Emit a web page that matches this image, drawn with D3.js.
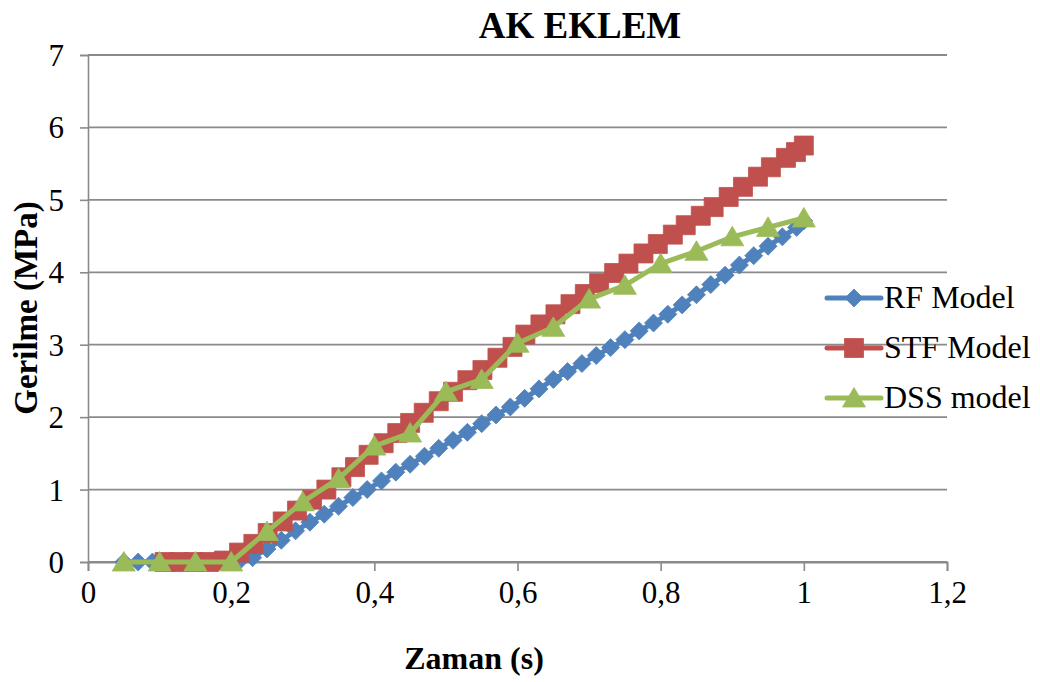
<!DOCTYPE html>
<html>
<head>
<meta charset="utf-8">
<script src="https://cdn.jsdelivr.net/npm/d3@7"></script>
<style>
  html, body { margin: 0; padding: 0; background: #ffffff; }
  svg { display: block; }
  text { font-family: "Liberation Serif", "Times New Roman", serif; fill: #000; }
</style>
</head>
<body>
<svg id="chart" width="1040" height="682"></svg>
<script>
// Time (s) and stress (MPa) for each model
const rfTime = [0.05,0.07,0.09,0.11,0.13,0.15,0.17,0.19,0.21,0.23,0.25,0.27,0.29,0.31,0.33,0.35,0.37,0.39,0.41,0.43,0.45,0.47,0.49,0.51,0.53,0.55,0.57,0.59,0.61,0.63,0.65,0.67,0.69,0.71,0.73,0.75,0.77,0.79,0.81,0.83,0.85,0.87,0.89,0.91,0.93,0.95,0.97,0.99,1.00];
const rfStress = [0,0,0,0,0,0,0,0,0,0.06,0.18,0.30,0.43,0.55,0.66,0.77,0.89,1.00,1.12,1.24,1.35,1.46,1.57,1.68,1.79,1.91,2.03,2.14,2.26,2.39,2.52,2.63,2.74,2.85,2.96,3.07,3.19,3.30,3.42,3.55,3.69,3.83,3.96,4.10,4.23,4.36,4.49,4.62,4.71];

const stfTime = [0.107,0.128,0.148,0.169,0.190,0.211,0.231,0.251,0.272,0.292,0.313,0.333,0.354,0.373,0.392,0.413,0.432,0.450,0.469,0.490,0.510,0.530,0.551,0.572,0.593,0.611,0.632,0.653,0.674,0.694,0.714,0.735,0.755,0.776,0.796,0.817,0.835,0.856,0.874,0.895,0.915,0.936,0.954,0.975,0.989,1.000];
const stfStress = [0,0,0,0,0.02,0.13,0.25,0.40,0.56,0.71,0.86,1.00,1.17,1.31,1.48,1.64,1.78,1.92,2.06,2.22,2.35,2.51,2.65,2.82,2.97,3.14,3.28,3.42,3.56,3.70,3.85,3.99,4.12,4.26,4.39,4.52,4.65,4.78,4.90,5.04,5.18,5.32,5.45,5.58,5.66,5.75];

const dssTime = [0.05,0.10,0.15,0.20,0.25,0.30,0.35,0.40,0.45,0.50,0.55,0.60,0.65,0.70,0.75,0.80,0.85,0.90,0.95,1.00];
const dssStress = [0,0,0,0,0.42,0.83,1.15,1.60,1.78,2.35,2.52,3.02,3.24,3.63,3.82,4.12,4.29,4.49,4.62,4.75];

const seriesNames = ["RF Model", "STF Model", "DSS model"];
const seriesColors = ["#4F81BD", "#C0504D", "#9BBB59"];
const xTicks = [0, 0.2, 0.4, 0.6, 0.8, 1, 1.2];
const yTicks = [0, 1, 2, 3, 4, 5, 6, 7];

const chartTitle = "AK EKLEM";
const xTitle = "Zaman (s)";
const yTitle = "Gerilme (MPa)";

const svg = d3.select("#chart");
const plot = { left: 88, right: 947, top: 55, bottom: 562 };

const x = d3.scaleLinear().domain([0, 1.2]).range([plot.left, plot.right]);
const y = d3.scaleLinear().domain([0, 7]).range([plot.bottom, plot.top]);

const fmt = v => String(+v.toFixed(1)).replace(".", ",");
const gridColor = "#8a8a8a";

// Horizontal gridlines
svg.append("g")
  .selectAll("line")
  .data(yTicks)
  .join("line")
  .attr("x1", plot.left).attr("x2", plot.right)
  .attr("y1", d => y(d)).attr("y2", d => y(d))
  .attr("stroke", gridColor).attr("stroke-width", 1.8);

// Y axis
const yAxis = svg.append("g")
  .attr("transform", `translate(${plot.left},0)`)
  .call(d3.axisLeft(y).tickValues(yTicks).tickSize(8).tickPadding(16).tickFormat(d => d));
yAxis.select(".domain").attr("stroke", gridColor).attr("stroke-width", 1.6);
yAxis.selectAll(".tick line").attr("stroke", gridColor).attr("stroke-width", 1.6);
yAxis.selectAll(".tick text")
  .attr("font-size", 31)
  .attr("dy", "0.34em").attr("fill", "#000");

// X axis
const xAxis = svg.append("g")
  .attr("transform", `translate(0,${plot.bottom})`)
  .call(d3.axisBottom(x).tickValues(xTicks).tickSize(9).tickPadding(10).tickFormat(fmt));
xAxis.select(".domain").attr("stroke", gridColor).attr("stroke-width", 1.8);
xAxis.selectAll(".tick line").attr("stroke", gridColor).attr("stroke-width", 1.6);
xAxis.selectAll(".tick text")
  .attr("font-size", 31)
  .attr("dy", "0.72em").attr("fill", "#000");

// Series
const series = [
  { name: seriesNames[0], color: seriesColors[0], shape: "diamond",
    pts: rfTime.map((t, i) => [t, rfStress[i]]) },
  { name: seriesNames[1], color: seriesColors[1], shape: "square",
    pts: stfTime.map((t, i) => [t, stfStress[i]]) },
  { name: seriesNames[2], color: seriesColors[2], shape: "triangle",
    pts: dssTime.map((t, i) => [t, dssStress[i]]) }
];

function markerPath(shape) {
  if (shape === "diamond") return "M0,-9 L9,0 L0,9 L-9,0 Z";
  if (shape === "square") return "M-9.5,-9.5 H9.5 V9.5 H-9.5 Z";
  return "M0,-10.5 L11.5,9 L-11.5,9 Z";
}

const line = d3.line().x(d => x(d[0])).y(d => y(d[1]));

series.forEach(s => {
  const g = svg.append("g");
  g.append("path")
    .datum(s.pts)
    .attr("d", line)
    .attr("fill", "none")
    .attr("stroke", s.color)
    .attr("stroke-width", 5)
    .attr("stroke-linejoin", "round")
    .attr("stroke-linecap", "round");
  g.selectAll("path.marker")
    .data(s.pts)
    .join("path")
    .attr("class", "marker")
    .attr("d", markerPath(s.shape))
    .attr("transform", d => `translate(${x(d[0])},${y(d[1])})`)
    .attr("fill", s.color)
    .attr("stroke", s.color)
    .attr("stroke-width", 0.8);
});

// Legend
const legend = svg.append("g");
const legendY = [298, 348, 398];
series.forEach((s, i) => {
  const gy = legendY[i];
  legend.append("line")
    .attr("x1", 827).attr("x2", 881)
    .attr("y1", gy).attr("y2", gy)
    .attr("stroke", s.color).attr("stroke-width", 5)
    .attr("stroke-linecap", "round");
  legend.append("path")
    .attr("d", markerPath(s.shape))
    .attr("transform", `translate(854,${gy})`)
    .attr("fill", s.color).attr("stroke", s.color).attr("stroke-width", 0.8);
  legend.append("text")
    .attr("x", 884).attr("y", gy + 10)
    .attr("font-size", 32)
    .text(s.name);
});

// Titles
svg.append("text")
  .attr("x", 580).attr("y", 38)
  .attr("text-anchor", "middle")
  .attr("font-size", 37).attr("font-weight", "bold")
  .text(chartTitle);

svg.append("text")
  .attr("x", 474).attr("y", 669)
  .attr("text-anchor", "middle")
  .attr("font-size", 32).attr("font-weight", "bold")
  .text(xTitle);

svg.append("text")
  .attr("transform", "translate(37,308) rotate(-90)")
  .attr("text-anchor", "middle")
  .attr("font-size", 33).attr("font-weight", "bold")
  .text(yTitle);
</script>
</body>
</html>
